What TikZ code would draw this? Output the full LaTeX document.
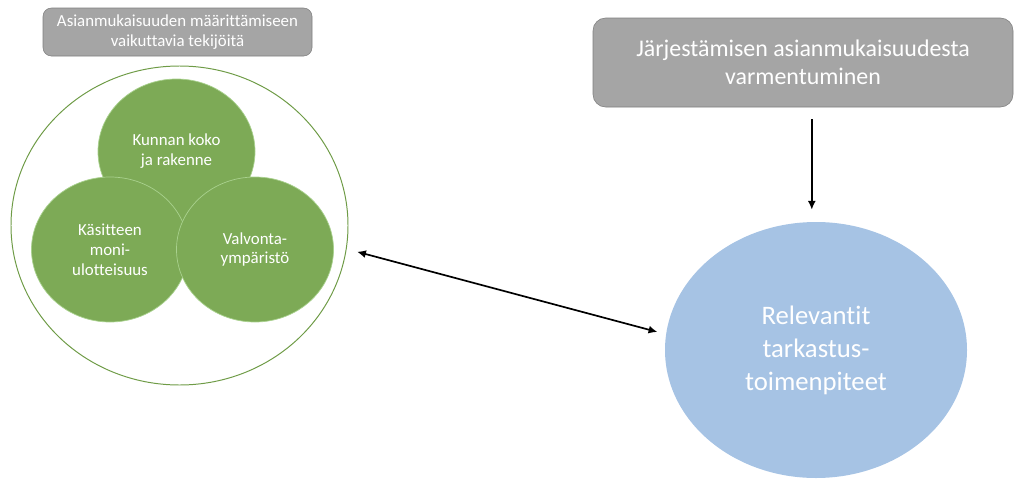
\documentclass[tikz,border=0pt]{standalone}
\usepackage{fontspec}
\setmainfont[Ligatures=NoCommon]{Carlito}
\definecolor{BoxGray}{HTML}{A5A5A5}
\definecolor{BoxEdge}{HTML}{7F7F7F}
\definecolor{LeafGreen}{HTML}{7DAA56}
\definecolor{LeafEdge}{HTML}{A9D18E}
\definecolor{RingGreen}{HTML}{6E9B46}
\definecolor{SkyBlue}{HTML}{A6C3E4}
\usetikzlibrary{arrows.meta,positioning,shapes.geometric}

\begin{document}
\begin{tikzpicture}[
        header/.style={draw=BoxEdge,fill=BoxGray,rounded corners=6pt,
                       text=white,align=center,inner sep=0pt},
        factor/.style={ellipse,fill=LeafGreen,draw=LeafEdge,line width=0.5pt,
                       minimum width=3.925cm,minimum height=3.625cm,
                       inner sep=0pt,text=white,align=center,
                       font=\fontsize{12}{14.2}\selectfont},
        link/.style={line width=1.2pt}]

        \useasboundingbox (0,0) rectangle (25.425,-11.975);

        \node[header,minimum width=6.725cm,minimum height=1.2cm,
              font=\fontsize{12}{14.2}\selectfont] (factors) at (4.4375,-0.8)
              {Asianmukaisuuden määrittämiseen\\vaikuttavia tekijöitä};

        \node[ellipse,draw=RingGreen,line width=0.7pt,inner sep=0pt,
              minimum width=8.425cm,minimum height=7.975cm] (ring) at (4.4875,-5.6375) {};

        \node[factor] (size)  at (4.4125,-3.7875) {Kunnan koko\\ja rakenne};
        \node[factor] (dims)  at (2.75,-6.2375)   {Käsitteen\\moni-\\ulotteisuus};
        \node[factor] (env)   at (6.375,-6.2375)  {Valvonta-\\ympäristö};

        \node[header,minimum width=10.5cm,minimum height=2.225cm,rounded corners=9pt,
              font=\fontsize{17}{20}\selectfont] (verify) at (20.075,-1.5625)
              {Järjestämisen asianmukaisuudesta\\varmentuminen};

        \node[ellipse,fill=SkyBlue,inner sep=0pt,text=white,align=center,
              minimum width=7.55cm,minimum height=6.4cm,
              font=\fontsize{19}{23.5}\selectfont] (checks) at (20.4,-8.75)
              {Relevantit\\tarkastus-\\toimenpiteet};

        \draw[link,-{Latex[length=2.2mm,width=2mm]},shorten <=0.3cm,shorten >=0.3cm]
          ([xshift=0.22cm]verify.south) -- ([xshift=0.22cm]verify.south |- checks.north);
        \draw[link,{Latex[length=2.2mm,width=2mm]}-{Latex[length=2.2mm,width=2mm]},
              shorten <=0.27cm,shorten >=0.22cm]
          (ring.-8) -- (checks.174);
      \end{tikzpicture}
\end{document}
